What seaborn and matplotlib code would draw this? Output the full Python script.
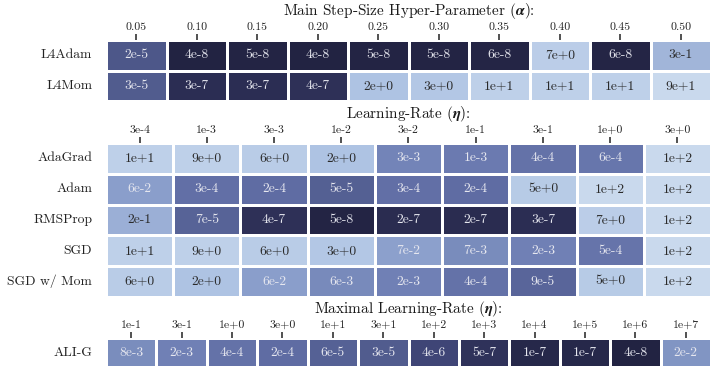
import numpy as np
import pandas as pd
import matplotlib
matplotlib.use("Agg")
import matplotlib.pyplot as plt
from matplotlib.colors import LinearSegmentedColormap, LogNorm
import seaborn as sns

# ---- data -------------------------------------------------------------
alpha_ticks = ["0.05", "0.10", "0.15", "0.20", "0.25", "0.30", "0.35", "0.40", "0.45", "0.50"]
l4_rows = ["L4Adam", "L4Mom"]
l4adam = [2e-5, 4e-8, 5e-8, 4e-8, 5e-8, 5e-8, 6e-8, 7e+0, 6e-8, 3e-1]
l4mom = [3e-5, 3e-7, 3e-7, 4e-7, 2e+0, 3e+0, 1e+1, 1e+1, 1e+1, 9e+1]

lr_ticks = ["3e-4", "1e-3", "3e-3", "1e-2", "3e-2", "1e-1", "3e-1", "1e+0", "3e+0"]
base_rows = ["AdaGrad", "Adam", "RMSProp", "SGD", "SGD w/ Mom"]
adagrad = [1e+1, 9e+0, 6e+0, 2e+0, 3e-3, 1e-3, 4e-4, 6e-4, 1e+2]
adam = [6e-2, 3e-4, 2e-4, 5e-5, 3e-4, 2e-4, 5e+0, 1e+2, 1e+2]
rmsprop = [2e-1, 7e-5, 4e-7, 5e-8, 2e-7, 2e-7, 3e-7, 7e+0, 1e+2]
sgd = [1e+1, 9e+0, 6e+0, 3e+0, 7e-2, 7e-3, 2e-3, 5e-4, 1e+2]
sgd_mom = [6e+0, 2e+0, 6e-2, 6e-3, 2e-3, 4e-4, 9e-5, 5e+0, 1e+2]

alig_ticks = ["1e-1", "3e-1", "1e+0", "3e+0", "1e+1", "3e+1", "1e+2", "1e+3",
              "1e+4", "1e+5", "1e+6", "1e+7"]
alig_rows = ["ALI-G"]
alig = [8e-3, 2e-3, 4e-4, 2e-4, 6e-5, 3e-5, 4e-6, 5e-7, 1e-7, 1e-7, 4e-8, 2e-2]

# ---- style ------------------------------------------------------------
sns.set_theme(style="white")
plt.rcParams["font.family"] = ["cmr10", "DejaVu Serif"]
plt.rcParams["mathtext.fontset"] = "cm"
plt.rcParams["axes.unicode_minus"] = False
plt.rcParams["axes.formatter.use_mathtext"] = True

# navy -> pale blue, laid out along log10 of the loss
stops = [(-8.0, "#1c1c37"), (-6.5, "#2c2e54"), (-5.4, "#3f4576"),
         (-4.6, "#4f5a8c"), (-3.7, "#5f6ca3"), (-2.7, "#7080b5"),
         (-2.1, "#7a8dbd"), (-1.2, "#8a9ecb"), (-0.6, "#9fb3d8"),
         (0.3, "#aec3e3"), (1.0, "#bed0e9"), (2.0, "#c9d9ed")]
lo, hi = stops[0][0], stops[-1][0]
cmap = LinearSegmentedColormap.from_list(
    "loss", [((v - lo) / (hi - lo), c) for v, c in stops])
norm = LogNorm(vmin=10 ** lo, vmax=10 ** hi)


def sci(v):
    mant, exp = f"{v:.0e}".split("e")
    e = int(exp)
    return f"{mant}e{'+' if e >= 0 else '-'}{abs(e)}"


def panel(ax, rows, names, ticks, title):
    df = pd.DataFrame(rows, index=names, columns=ticks)
    labels = df.map(sci).values
    sns.heatmap(df, ax=ax, cmap=cmap, norm=norm, cbar=False,
                annot=labels, fmt="", linewidths=1.0, linecolor="white",
                annot_kws={"fontsize": 9.8})
    for t in ax.texts:
        r, g, b, _ = matplotlib.colors.to_rgba(t.get_color())
        t.set_color("#e6e7ef" if r > 0.5 else "#2a2a2a")
    ax.xaxis.tick_top()
    ax.tick_params(axis="x", length=4, width=1.1, color="#222222",
                   labelsize=8.5, pad=2, labelcolor="#222222", rotation=0)
    ax.tick_params(axis="y", length=0, labelsize=9.8, pad=10,
                   labelcolor="#222222", rotation=0)
    ax.set_xlabel("")
    ax.set_ylabel("")
    ax.set_title(title, fontsize=11, pad=5, color="#1a1a1a")


fig = plt.figure(figsize=(7.12, 3.66), dpi=100)
left, width = 106 / 712, 605 / 712

ax1 = fig.add_axes([left, 1 - 101 / 366, width, 61 / 366])
ax2 = fig.add_axes([left, 1 - 297 / 366, width, 154 / 366])
ax3 = fig.add_axes([left, 1 - 368.5 / 366, width, 30.5 / 366])

panel(ax1, [l4adam, l4mom], l4_rows, alpha_ticks,
      r"Main Step-Size Hyper-Parameter ($\boldsymbol{\alpha}$):")
panel(ax2, [adagrad, adam, rmsprop, sgd, sgd_mom], base_rows, lr_ticks,
      r"Learning-Rate ($\boldsymbol{\eta}$):")
panel(ax3, [alig], alig_rows, alig_ticks,
      r"Maximal Learning-Rate ($\boldsymbol{\eta}$):")

fig.savefig("out.png", dpi=100)
